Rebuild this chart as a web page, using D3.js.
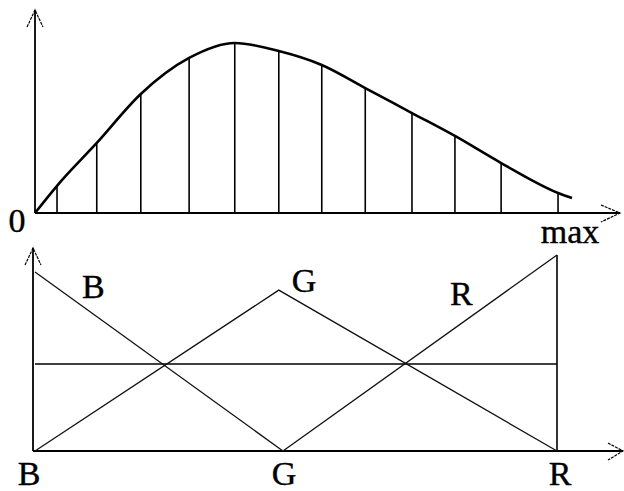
<!DOCTYPE html>
<html>
<head>
<meta charset="utf-8">
<script src="https://cdn.jsdelivr.net/npm/d3@7/dist/d3.min.js"></script>
<style>
  html, body { margin: 0; padding: 0; background: #fff; }
  svg { display: block; }
  text { font-family: "Liberation Serif", "Times New Roman", serif; fill: #000; stroke: #000; stroke-width: 0.4px; }
</style>
</head>
<body>
<svg id="chart" width="624" height="491"></svg>
<script>
// ---------- Data ----------
// Top chart: distribution curve (x in % of max, y in % of peak)
const curveX = [0, 4.1, 11.5, 19.7, 28.7, 37.2, 45.4, 53.4, 61.5, 70.2, 78.2, 86.8, 97.4, 100];
const curveY = [0, 16.0, 41.2, 70.0, 91.2, 100, 95.3, 87.1, 73.5, 58.8, 45.3, 29.4, 11.8, 8.8];
// Sample stems
const stemX = [4.1, 11.5, 19.7, 28.7, 37.2, 45.4, 53.4, 61.5, 70.2, 78.2, 86.8, 97.4];
const stemY = [16.0, 41.2, 70.0, 91.2, 100, 95.3, 87.1, 73.5, 58.8, 45.3, 29.4, 11.8];
const topTickLabels = ["0", "max"];

// Bottom chart: B, G, R weighting lines (x in %, y in %)
const categories = ["B", "G", "R"];
const categoryX = [0, 47.5, 100];
const seriesB = [[0, 91.3], [47.5, 0]];
const seriesG = [[0, 0], [46.7, 82.1], [100, 0]];
const seriesR = [[47.5, 0], [100, 100]];
const levelY = 44.4;
const seriesLabels = ["B", "G", "R"];
const seriesLabelPos = [[9, 78], [49.2, 81.1], [79.5, 74.5]];

// ---------- Drawing ----------
const svg = d3.select("#chart");
const ink = "#000";

// Top scales
const xT = d3.scaleLinear().domain([0, 100]).range([35, 572]);
const yT = d3.scaleLinear().domain([0, 100]).range([213, 43]);

// Bottom scales
const xB = d3.scaleLinear().domain([0, 100]).range([35, 557]);
const yB = d3.scaleLinear().domain([0, 100]).range([451, 255]);

function axisLine(g, x0, y0, x1, y1, w) {
  g.append("line").attr("x1", x0).attr("y1", y0).attr("x2", x1).attr("y2", y1)
    .attr("stroke", ink).attr("stroke-width", w);
}

// ---- top chart axes
const gTop = svg.append("g");
axisLine(gTop, xT(0), yT(0), 620, yT(0), 1.8);           // x axis
axisLine(gTop, xT(0), yT(0), xT(0), 10, 1.8);            // y axis
gTop.append("path").attr("d", `M${xT(0) - 8},27 L${xT(0)},10 L${xT(0) + 8},27`)
  .attr("fill", "none").attr("stroke", ink).attr("stroke-width", 1.2).attr("stroke-dasharray", "3,1");
gTop.append("path").attr("d", `M601,${yT(0) - 8} L620,${yT(0)} L601,${yT(0) + 9}`)
  .attr("fill", "none").attr("stroke", ink).attr("stroke-width", 1.2).attr("stroke-dasharray", "3,1");

// stems
gTop.selectAll("line.stem").data(stemX.map((x, i) => [x, stemY[i]])).join("line")
  .attr("class", "stem")
  .attr("x1", d => xT(d[0])).attr("x2", d => xT(d[0]))
  .attr("y1", yT(0)).attr("y2", d => yT(d[1]))
  .attr("stroke", ink).attr("stroke-width", 1.6);

// curve
const curvePts = curveX.map((x, i) => [x, curveY[i]]);
gTop.append("path").datum(curvePts)
  .attr("d", d3.line().x(d => xT(d[0])).y(d => yT(d[1])).curve(d3.curveMonotoneX))
  .attr("fill", "none").attr("stroke", ink).attr("stroke-width", 2.6);

// top labels
gTop.append("text").attr("x", xT(0) - 18).attr("y", 232).attr("text-anchor", "middle")
  .attr("font-size", 34).text(topTickLabels[0]);
gTop.append("text").attr("x", xT(100) - 2).attr("y", 243).attr("text-anchor", "middle")
  .attr("font-size", 34).text(topTickLabels[1]);

// ---- bottom chart
const gBot = svg.append("g");
axisLine(gBot, 33, yB(0), 623, yB(0), 1.8);
axisLine(gBot, 33, yB(0), 33, 248, 1.8);
gBot.append("path").attr("d", `M25,265 L33,248 L41,265`)
  .attr("fill", "none").attr("stroke", ink).attr("stroke-width", 1.2).attr("stroke-dasharray", "3,1");
gBot.append("path").attr("d", `M608,443 L623,${yB(0)} L608,460`)
  .attr("fill", "none").attr("stroke", ink).attr("stroke-width", 1.2).attr("stroke-dasharray", "3,1");

// vertical line at R and horizontal level line
gBot.append("line").attr("x1", xB(100)).attr("x2", xB(100)).attr("y1", yB(0)).attr("y2", yB(100))
  .attr("stroke", ink).attr("stroke-width", 1.6);
gBot.append("line").attr("x1", xB(0)).attr("x2", xB(100)).attr("y1", yB(levelY)).attr("y2", yB(levelY))
  .attr("stroke", ink).attr("stroke-width", 1.5);

const lineGen = d3.line().x(d => xB(d[0])).y(d => yB(d[1]));
[seriesB, seriesG, seriesR].forEach(s => {
  gBot.append("path").datum(s).attr("d", lineGen)
    .attr("fill", "none").attr("stroke", "#111").attr("stroke-width", 1.3);
});

// category labels under x axis
const catDx = [-6, 1, 3];
gBot.selectAll("text.cat").data(categories).join("text")
  .attr("class", "cat")
  .attr("x", (d, i) => xB(categoryX[i]) + catDx[i]).attr("y", 485)
  .attr("text-anchor", "middle").attr("font-size", 34).text(d => d);

// series labels
gBot.selectAll("text.ser").data(seriesLabels).join("text")
  .attr("class", "ser")
  .attr("x", (d, i) => xB(seriesLabelPos[i][0])).attr("y", (d, i) => yB(seriesLabelPos[i][1]))
  .attr("font-size", 34).text(d => d);
</script>
</body>
</html>
